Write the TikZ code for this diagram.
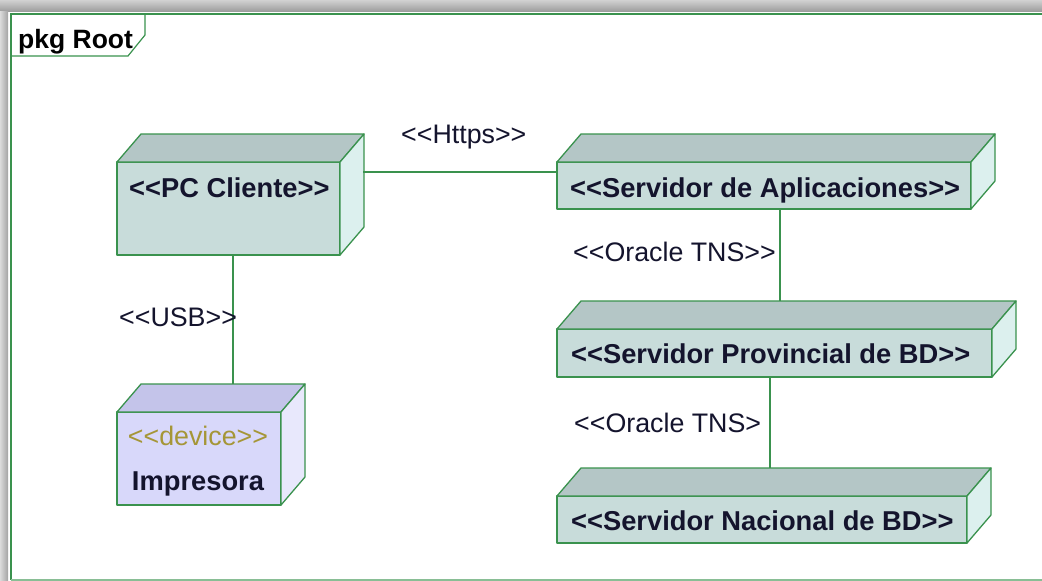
\documentclass[tikz,border=0pt]{standalone}
\usepackage{fontspec}
\setmainfont{Liberation Sans}
\usetikzlibrary{calc}
\definecolor{umlgreen}{RGB}{58,146,78}
\definecolor{frontg}{RGB}{200,220,218}
\definecolor{topg}{RGB}{180,198,198}
\definecolor{sideg}{RGB}{220,240,238}
\definecolor{frontb}{RGB}{216,216,250}
\definecolor{topb}{RGB}{196,196,234}
\definecolor{sideb}{RGB}{232,232,252}
\definecolor{devtxt}{RGB}{165,150,55}
\definecolor{txt}{RGB}{20,20,45}
% guillemet-free stereotype brackets
\newcommand{\stl}{{<}{<}}
\newcommand{\str}{{>}{>}}
\begin{document}
\begin{tikzpicture}[x=1pt,y=-1pt,
  edge/.style={draw=umlgreen, line width=1.4pt},
  face/.style={draw=umlgreen, line width=1.3pt, line join=round},
  frontface/.style={face, fill=#1, rectangle, inner sep=0pt, outer sep=0pt, anchor=north west},
  boldlbl/.style={font=\fontsize{27.3}{31}\selectfont\bfseries, anchor=base west, inner sep=0pt, text=txt},
  lbl/.style={font=\fontsize{26.8}{31}\selectfont, anchor=base west, inner sep=0pt, text=txt}]
\clip (0,0) rectangle (1042,581);
\fill[white] (0,0) rectangle (1042,581);
% drop shadow along the top and left of the frame
\shade[top color=black!18, bottom color=black!38] (0,0) rectangle (1042,11);
\shade[left color=black!14, right color=black!36] (0,11) rectangle (8,581);

% package frame with its tab
\draw[umlgreen, line width=2pt] (11,580) -- (11,14) -- (1060,14);
\draw[umlgreen!60, line width=1.5pt] (11,580) -- (1060,580);
\draw[umlgreen, line width=1.2pt] (11,56) -- (128,56) -- (145,35) -- (145,14);
\node[boldlbl, font=\fontsize{26.5}{30}\selectfont\bfseries, text=black] (pkg) at (18,48) {pkg Root};

% front faces of the nodes
\node[frontface=frontg, minimum width=223pt, minimum height=93pt] (pc)   at (117,162) {};
\node[frontface=frontg, minimum width=414pt, minimum height=47pt] (srv)  at (557,162) {};
\node[frontface=frontg, minimum width=435pt, minimum height=48pt] (prov) at (557,329) {};
\node[frontface=frontg, minimum width=410pt, minimum height=47pt] (nac)  at (557,496) {};
\node[frontface=frontb, minimum width=164pt, minimum height=93pt] (imp)  at (117,412) {};

% top and side faces of each box
\foreach \n/\t/\s in {pc/topg/sideg, srv/topg/sideg, prov/topg/sideg, nac/topg/sideg, imp/topb/sideb}{
  \filldraw[face, fill=\t] (\n.north west) -- ++(24,-28) -- ($(\n.north east)+(24,-28)$) -- (\n.north east) -- cycle;
  \filldraw[face, fill=\s] (\n.north east) -- ++(24,-28) -- ($(\n.south east)+(24,-28)$) -- (\n.south east) -- cycle;
}

% node names
\node[boldlbl] (pcT)   at (129,197) {\stl PC Cliente\str};
\node[boldlbl] (srvT)  at (570,197) {\stl Servidor de Aplicaciones\str};
\node[boldlbl] (provT) at (571,363) {\stl Servidor Provincial de BD\str};
\node[boldlbl] (nacT)  at (571,530) {\stl Servidor Nacional de BD\str};
\node[lbl, anchor=base, text=devtxt] (impS) at (198,445) {\stl device\str};
\node[boldlbl, anchor=base] (impT) at (198,490) {Impresora};

% communication paths
\coordinate (pcR) at ($(pc.north east)+(23,10)$);
\draw[edge] (pcR) -- (pcR -| srv.west);
\coordinate (srvB) at ($(srv.south west)+(223,0)$);
\coordinate (provTop) at ($(prov.north)+(0,-28)$);
\draw[edge] (srvB) -- (srvB |- provTop);
\coordinate (provB) at ($(prov.south west)+(213,0)$);
\coordinate (nacTop) at ($(nac.north)+(0,-28)$);
\draw[edge] (provB) -- (provB |- nacTop);
\coordinate (pcB) at ($(pc.south west)+(116,0)$);
\coordinate (impTop) at ($(imp.north)+(0,-28)$);
\draw[edge] (pcB) -- (pcB |- impTop);

% connector labels
\node[lbl] (https) at (401,143) {\stl Https\str};
\node[lbl] (tns1)  at (573,261) {\stl Oracle TNS\str};
\node[lbl] (tns2)  at (574,432) {\stl Oracle TNS{>}};
\node[lbl] (usb)   at (119,326) {\stl USB\str};
\end{tikzpicture}
\end{document}
